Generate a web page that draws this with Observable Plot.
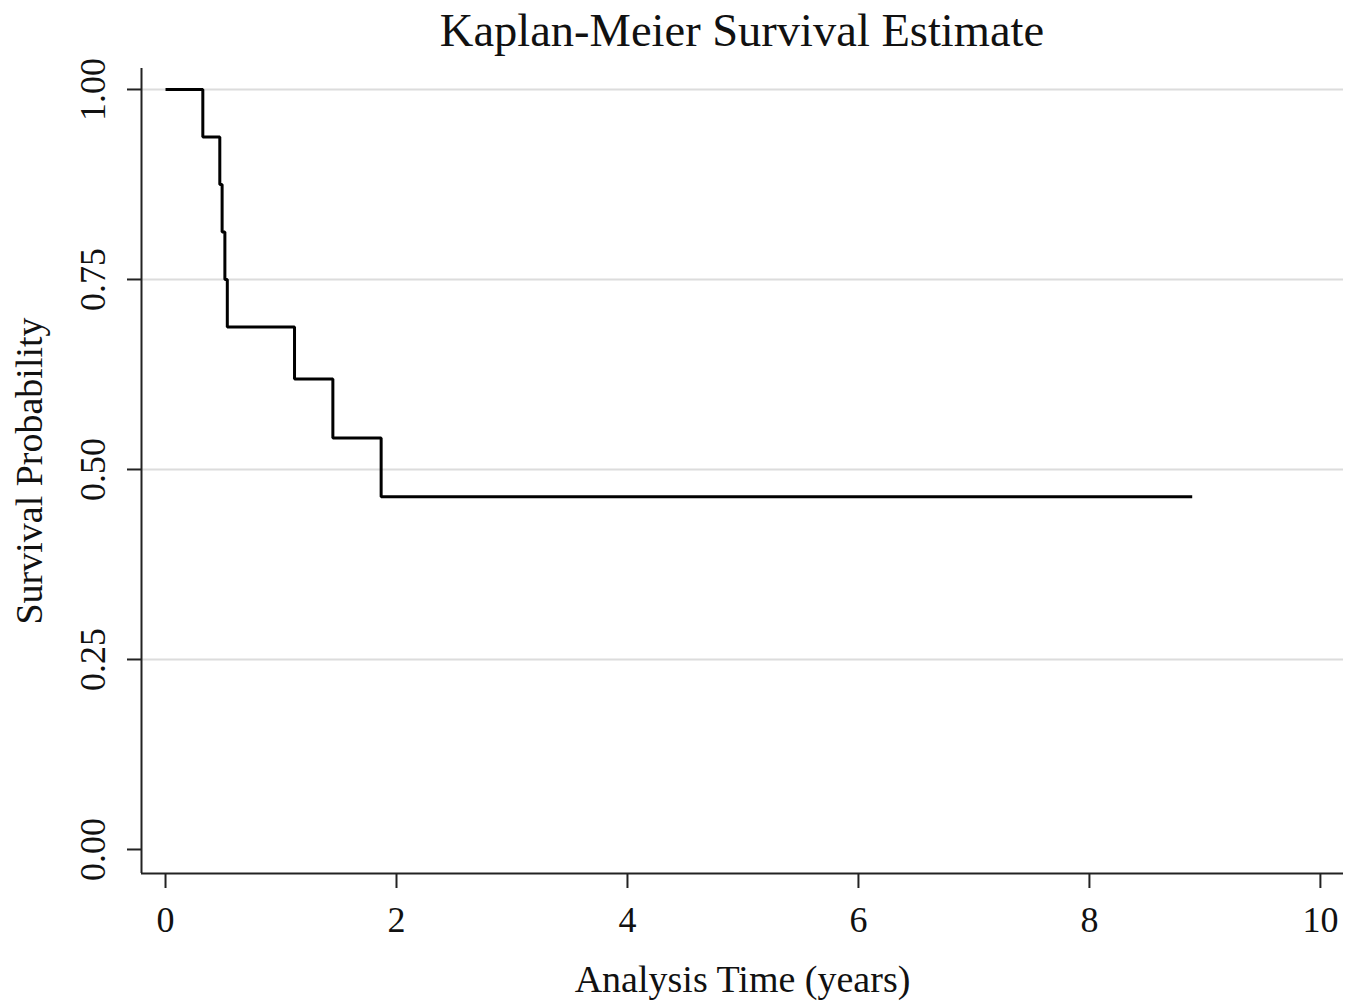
<!DOCTYPE html>
<html>
<head>
<meta charset="utf-8">
<script src="https://cdn.jsdelivr.net/npm/d3@7"></script>
<script src="https://cdn.jsdelivr.net/npm/@observablehq/plot@0.6"></script>
<style>
  html, body { margin: 0; padding: 0; background: #fff; }
  #wrap { position: relative; width: 1359px; height: 1007px; }
  #title { position: absolute; left: 0; top: 0; height: 60px; line-height: 62px; font-family: "Liberation Serif", serif;
           font-size: 46.5px; color: #111; text-align: center; padding-left: 125px; width: 1234px; white-space: nowrap; z-index: 2; }
</style>
</head>
<body>
<div id="wrap">
  <div id="title">Kaplan-Meier Survival Estimate</div>
  <div id="chart"></div>
</div>
<script>
// Data
const times    = [0, 0.323, 0.47, 0.49, 0.514, 0.535, 1.117, 1.449, 1.867, 8.89];
const survival = [1, 0.9375, 0.875, 0.8125, 0.75, 0.6875, 0.619, 0.5414, 0.464, 0.464];
const xTicks = [0, 2, 4, 6, 8, 10];
const yTicks = [0, 0.25, 0.5, 0.75, 1];
const gridTicks = [0.25, 0.5, 0.75, 1];
const xDomain = [-0.208, 10.2];
const yDomain = [-0.0316, 1.0276];

const km = times.map((t, i) => ({t, s: survival[i]}));
const font = "Liberation Serif, serif";

const chart = Plot.plot({
  width: 1359,
  height: 1007,
  marginLeft: 141,
  marginRight: 16,
  marginTop: 68,
  marginBottom: 134,
  style: {fontFamily: font, fontSize: "36px", color: "#111", background: "#fff"},
  x: {domain: xDomain},
  y: {domain: yDomain},
  marks: [
    Plot.ruleY(gridTicks, {stroke: "#dcdcdc", strokeWidth: 2}),
    Plot.ruleY([yDomain[0]], {stroke: "#222", strokeWidth: 2}),
    Plot.ruleX([xDomain[0]], {stroke: "#222", strokeWidth: 2}),
    Plot.axisX(xTicks, {tickSize: 15, tickPadding: 18, label: null, stroke: "#222", strokeWidth: 2, fontSize: 36,
                        tickFormat: d3.format("d")}),
    Plot.axisY(yTicks, {tickSize: 14, tickFormat: () => "", label: null, stroke: "#222", strokeWidth: 2}),
    Plot.axisY(yTicks, {tickSize: 0, tickPadding: 48, label: null, rotate: -90, textAnchor: "middle",
                        tickFormat: d3.format(".2f"), fontSize: 36}),
    Plot.line(km, {x: "t", y: "s", curve: "step-after", stroke: "#000", strokeWidth: 3,
                   strokeLinejoin: "miter", strokeLinecap: "butt"}),
    Plot.text(["Analysis Time (years)"], {frameAnchor: "bottom", dy: 118, fontSize: 38, fill: "#111"}),
    Plot.text(["Survival Probability"], {frameAnchor: "left", dx: -112, rotate: -90, textAnchor: "middle",
                                         fontSize: 38, fill: "#111"})
  ]
});
document.getElementById("chart").appendChild(chart);
</script>
</body>
</html>
